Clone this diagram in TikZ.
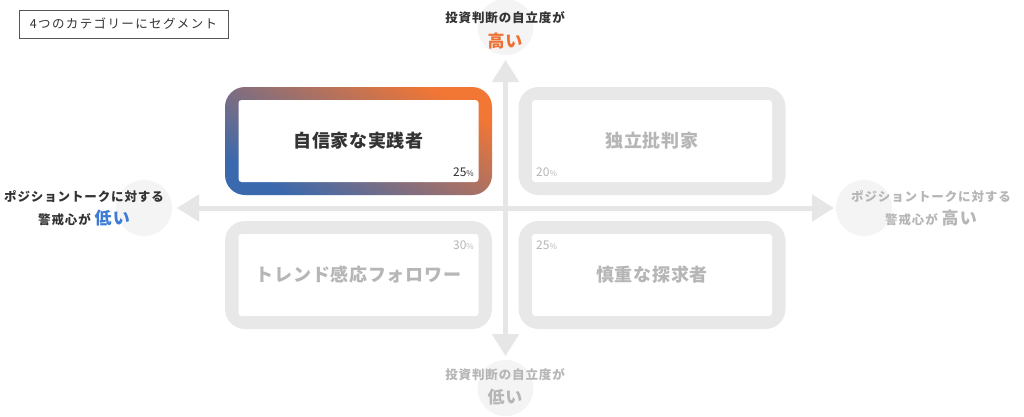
\documentclass[tikz,border=0pt]{standalone}
\usepackage{fontspec}
\setmainfont{Noto Sans CJK JP}
\usetikzlibrary{arrows.meta}
\definecolor{darktext}{HTML}{333333}
\definecolor{graytext}{HTML}{B6B6B6}
\definecolor{orangeC}{HTML}{F27634}
\definecolor{blueC}{HTML}{3A69AE}
\definecolor{lowblue}{HTML}{3D7BD4}
\definecolor{highorange}{HTML}{EE7033}
\definecolor{boxgray}{HTML}{E8E8E8}
\definecolor{axisgray}{HTML}{E6E6E6}
\definecolor{circgray}{HTML}{F4F4F4}
\definecolor{titleborder}{HTML}{555555}
\begin{document}
\begin{tikzpicture}[x=1pt,y=-1pt,
  outerbox/.style={minimum width=267pt, minimum height=108pt, rounded corners=20pt, inner sep=0pt},
  innerbox/.style={fill=white, minimum width=240pt, minimum height=82pt, rounded corners=3pt, inner sep=0pt, font=\fontsize{18}{20}\selectfont\bfseries\addfontfeatures{LetterSpace=4}},
  pct/.style={inner sep=0pt, font=\fontsize{12}{14}\selectfont},
  circ/.style={circle, fill=circgray, minimum size=56pt, inner sep=0pt},
  lbl/.style={inner sep=0pt, font=\fontsize{12.5}{14}\selectfont\bfseries\addfontfeatures{LetterSpace=7}},
  big/.style={inner sep=0pt, font=\fontsize{17}{19}\selectfont\bfseries\addfontfeatures{LetterSpace=4}},
  axisarrow/.style={draw=axisgray, line width=5pt, {Triangle[width=26pt,length=22pt]}-{Triangle[width=26pt,length=22pt]}}
]
\useasboundingbox (0,0) rectangle (1024,416);
\fill[white] (0,0) rectangle (1024,416);

% title
\node[draw=titleborder, line width=0.8pt, minimum width=209pt, minimum height=28pt, inner sep=0pt, text=darktext, font=\fontsize{12.5}{14}\selectfont\addfontfeatures{LetterSpace=11}] (title) at (123.5,24) {4つのカテゴリーにセグメント};

% circles behind axis labels
\node[circ] (ctop) at (505.5,27) {};
\node[circ] (cbot) at (505.5,388) {};
\node[circ] (cleft) at (144,208) {};
\node[circ] (cright) at (864,208) {};

% axes
\coordinate (up) at (505.5,60);
\coordinate (down) at (505.5,356);
\coordinate (lft) at (177,208);
\coordinate (rgt) at (834,208);
\draw[axisarrow] (down) -- (up);
\draw[axisarrow] (lft) -- (rgt);

% quadrant boxes
\node[outerbox, top color=orangeC, bottom color=blueC, shading angle=-30] (tlo) at (358.5,141) {};
\node[innerbox, text=darktext] (tli) at (tlo.center) {自信家な実践者};
\node[pct, text=darktext, anchor=east] (tlp) at (474,172) {25{\fontsize{8}{9}\selectfont\%}};

\node[outerbox, fill=boxgray] (tro) at (652,141) {};
\node[innerbox, text=graytext] (tri) at (tro.center) {独立批判家};
\node[pct, text=graytext, anchor=west] (trp) at (536,172) {20{\fontsize{8}{9}\selectfont\%}};

\node[outerbox, fill=boxgray] (blo) at (358.5,275) {};
\node[innerbox, text=graytext] (bli) at (blo.center) {トレンド感応フォロワー};
\node[pct, text=graytext, anchor=east] (blp) at (474,245) {30{\fontsize{8}{9}\selectfont\%}};

\node[outerbox, fill=boxgray] (bro) at (652,275) {};
\node[innerbox, text=graytext] (bri) at (bro.center) {慎重な探求者};
\node[pct, text=graytext, anchor=west] (brp) at (536,245) {25{\fontsize{8}{9}\selectfont\%}};

% axis labels
\node[lbl, text=darktext] (top1) at (505,18) {投資判断の自立度が};
\node[big, text=highorange] (top2) at (505,41) {高い};
\node[lbl, text=graytext] (bot1) at (505,375) {投資判断の自立度が};
\node[big, text=graytext] (bot2) at (505,397) {低い};
\node[lbl, text=darktext] (lft1) at (84,197) {ポジショントークに対する};
\node[lbl, text=darktext] (lft2) at (84,218) {警戒心が {\fontsize{17}{19}\selectfont\color{lowblue}低い}};
\node[lbl, text=graytext] (rgt1) at (931,197) {ポジショントークに対する};
\node[lbl, text=graytext] (rgt2) at (931,218) {警戒心が {\fontsize{17}{19}\selectfont 高い}};
\end{tikzpicture}
\end{document}
